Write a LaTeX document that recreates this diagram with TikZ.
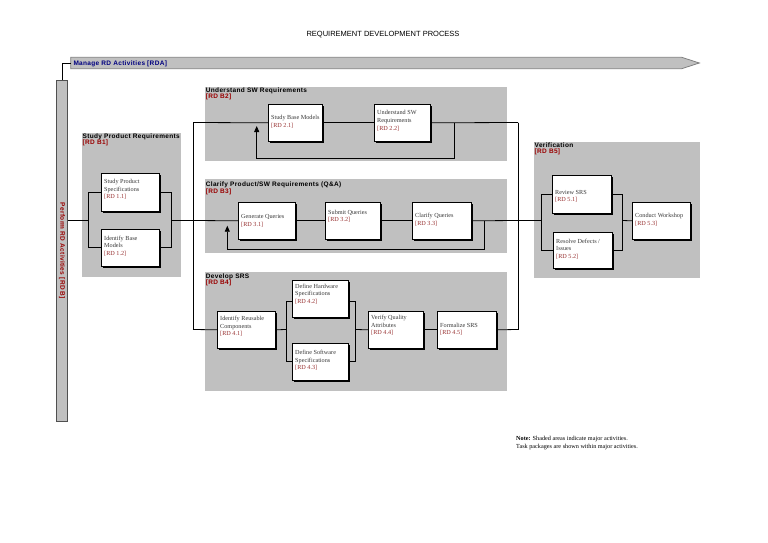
\documentclass[tikz,border=0pt]{standalone}
\usepackage{fontspec}
\setmainfont{Liberation Serif}
\newfontfamily\arialf{Liberation Sans}
\newfontfamily\arialsp[LetterSpace=5]{Liberation Sans}
\usetikzlibrary{shadows,arrows.meta}
\definecolor{regiongray}{HTML}{C0C0C0}
\definecolor{taskgray}{HTML}{383838}
\definecolor{rdnum}{HTML}{993333}
\definecolor{rdcode}{HTML}{990000}
\definecolor{navyblue}{HTML}{000080}
\definecolor{bardraw}{HTML}{505050}
\definecolor{arrowdraw}{HTML}{808080}
\newcommand{\mytask}[7]{%
  \node[task, minimum width=#4pt, minimum height=#5pt, anchor=north west] (#1) at (#2,#3) {};
  \node[tasktext, anchor=north west] (#1t) at (#2+3,#6-2.4) {#7};
}
\tikzset{
  region/.style={fill=regiongray, draw=none, inner sep=0pt, outer sep=0pt},
  task/.style={draw=black, fill=white, line width=0.6pt, inner sep=0pt,
    drop shadow={shadow xshift=1.8pt, shadow yshift=-1.8pt, opacity=1, fill=black}},
  tasktext/.style={font=\fontsize{6.2}{7.6}\selectfont, align=left, inner sep=0pt, text=taskgray},
  hfont/.style={font=\arialsp\bfseries\fontsize{6.5}{8}\selectfont, inner sep=0pt},
  rtitle/.style={hfont, text=black},
  rcode/.style={hfont, text=rdcode},
  conn/.style={draw=black, line width=0.8pt},
  fback/.style={conn, -{Triangle[width=5pt,length=6pt]}},
  bar/.style={fill=regiongray, draw=bardraw, line width=0.8pt, inner sep=0pt},
}
\begin{document}
\begin{tikzpicture}[x=1pt,y=-1pt]
\useasboundingbox (0,0) rectangle (768,543);
\fill[white] (0,0) rectangle (768,543);

% title
\node[font=\arialf\fontsize{7.5}{9}\selectfont, inner sep=0pt] (title) at (383,35) {REQUIREMENT DEVELOPMENT PROCESS};

% manage arrow
\path[fill=regiongray, draw=arrowdraw, line width=0.8pt] (70.7,57.3) -- (681.7,57.3) -- (699.3,63) -- (681.7,68.7) -- (70.7,68.7) -- cycle;
\coordinate (mgrIn) at (70.7,63);
\node[hfont, text=navyblue, anchor=base west] (mtext) at (73.3,65.3) {Manage RD Activities [RDA]};

% perform bar
\node[bar, minimum width=11pt, minimum height=341.5pt] (perform) at (62,251) {};
\node[hfont, rotate=-90, text=rdcode] (ptext) at (perform.center) {Perform RD Activities [RD B]};
\draw[conn] (perform.north) |- (mgrIn);

% regions
\node[region, anchor=north west, minimum width=99.3pt, minimum height=144pt] (r1) at (81.7,132.7) {};
\node[region, anchor=north west, minimum width=301.7pt, minimum height=74.3pt] (r2) at (205,86.7) {};
\node[region, anchor=north west, minimum width=301.7pt, minimum height=74pt] (r3) at (205,179.3) {};
\node[region, anchor=north west, minimum width=301.7pt, minimum height=118.7pt] (r4) at (205,272.3) {};
\node[region, anchor=north west, minimum width=166pt, minimum height=135.4pt] (r5) at (534,142.3) {};

\node[rtitle, anchor=base west] (r1t) at (82.5,138.4) {Study Product Requirements};
\node[rcode, anchor=base west] (r1c) at (82.5,144.6) {[RD B1]};
\node[rtitle, anchor=base west] (r2t) at (205.7,92.4) {Understand SW Requirements};
\node[rcode, anchor=base west] (r2c) at (205.7,98.9) {[RD B2]};
\node[rtitle, anchor=base west] (r3t) at (205.7,186.4) {Clarify Product/SW Requirements (Q\&A)};
\node[rcode, anchor=base west] (r3c) at (205.7,193.1) {[RD B3]};
\node[rtitle, anchor=base west] (r4t) at (205.7,278.1) {Develop SRS};
\node[rcode, anchor=base west] (r4c) at (205.7,284.7) {[RD B4]};
\node[rtitle, anchor=base west] (r5t) at (534.5,147.4) {Verification};
\node[rcode, anchor=base west] (r5c) at (534.5,153.1) {[RD B5]};

% tasks
\mytask{b11}{101}{173}{58}{38}{181.5}{Study Product\\Specifications\\{\color{rdnum}[RD 1.1]}}
\mytask{b12}{101}{229}{58}{37}{238}{Identify Base\\Models\\{\color{rdnum}[RD 1.2]}}
\mytask{b21}{268}{104}{54}{37}{117.3}{Study Base Models\\{\color{rdnum}[RD 2.1]}}
\mytask{b22}{374}{104}{56}{37}{112.7}{Understand SW\\Requirements\\{\color{rdnum}[RD 2.2]}}
\mytask{b31}{238}{202}{57}{37}{216.7}{Generate Queries\\{\color{rdnum}[RD 3.1]}}
\mytask{b32}{325}{202}{55}{37}{212}{Submit Queries\\{\color{rdnum}[RD 3.2]}}
\mytask{b33}{412}{202}{59}{37}{215.7}{Clarify Queries\\{\color{rdnum}[RD 3.3]}}
\mytask{b41}{217}{311}{58}{37}{318.3}{Identify Reusable\\Components\\{\color{rdnum}[RD 4.1]}}
\mytask{b42}{292}{280}{56}{37}{286}{Define Hardware\\Specifications\\{\color{rdnum}[RD 4.2]}}
\mytask{b43}{292}{343}{56}{37}{352.3}{Define Software\\Specifications\\{\color{rdnum}[RD 4.3]}}
\mytask{b44}{368}{311}{55}{37}{317.3}{Verify Quality\\Attributes\\{\color{rdnum}[RD 4.4]}}
\mytask{b45}{437}{311}{59}{37}{325}{Formalize SRS\\{\color{rdnum}[RD 4.5]}}
\mytask{b51}{552}{175}{59}{38}{192.3}{Review SRS\\{\color{rdnum}[RD 5.1]}}
\mytask{b52}{553}{232}{59}{36}{241}{Resolve Defects /\\Issues\\{\color{rdnum}[RD 5.2]}}
\mytask{b53}{632}{202}{58}{37}{215.7}{Conduct Workshop\\{\color{rdnum}[RD 5.3]}}

% junction coordinates
\coordinate (jS1) at (88.3,220.5);
\coordinate (jS2) at (171,220.5);
\coordinate (topL) at (193,122.5);
\coordinate (topR) at (518,122.5);
\coordinate (splitL) at (193,220.5);
\coordinate (splitR) at (518,220.5);
\coordinate (botL) at (193,329.5);
\coordinate (botR) at (518,329.5);
\coordinate (jD1) at (286,329.5);
\coordinate (jD2) at (355.7,329.5);
\coordinate (jV1) at (541,220.5);
\coordinate (jV2) at (622.3,220.5);
\coordinate (fb2s) at (454.3,122.5);
\coordinate (fb2e) at (256.7,126);
\coordinate (fb3s) at (484,220.5);
\coordinate (fb3e) at (227.3,225.7);

% study
\draw[conn] (perform.east |- jS1) -- (jS1);
\draw[conn] (b11.west) -| (jS1);
\draw[conn] (b12.west) -| (jS1);
\draw[conn] (b11.east) -| (jS2);
\draw[conn] (b12.east) -| (jS2);
\draw[conn] (jS2) -- (splitL);

% main verticals
\draw[conn] (topL) -- (botL);
\draw[conn] (topR) -- (botR);

% understand
\draw[conn] (topL) -- (b21.west);
\draw[conn] (b21.east) -- (b22.west);
\draw[conn] (b22.east) -- (topR);
\draw[fback] (fb2s) -- ++(0,36.2) -| (fb2e);

% clarify
\draw[conn] (splitL) -- (b31.west);
\draw[conn] (b31.east) -- (b32.west);
\draw[conn] (b32.east) -- (b33.west);
\draw[conn] (b33.east) -- (splitR);
\draw[fback] (fb3s) -- ++(0,28.5) -| (fb3e);

% develop
\draw[conn] (botL) -- (b41.west);
\draw[conn] (b41.east) -- (jD1);
\draw[conn] ([yshift=-3pt]b42.west) -| (jD1);
\draw[conn] (b43.west) -| (jD1);
\draw[conn] ([yshift=-3pt]b42.east) -| (jD2);
\draw[conn] (b43.east) -| (jD2);
\draw[conn] (jD2) -- (b44.west);
\draw[conn] (b44.east) -- (b45.west);
\draw[conn] (b45.east) -- (botR);

% verification
\draw[conn] (splitR) -- (jV1);
\draw[conn] (b51.west) -| (jV1);
\draw[conn] (b52.west) -| (jV1);
\draw[conn] (b51.east) -| (jV2);
\draw[conn] (b52.east) -| (jV2);
\draw[conn] (jV2) -- (b53.west);

% note
\node[font=\fontsize{6.2}{8}\selectfont, align=left, inner sep=0pt, anchor=north west] (note) at (516,435.5) {\textbf{Note:} Shaded areas indicate major activities.\\Task packages are shown within major activities.};
\end{tikzpicture}
\end{document}
